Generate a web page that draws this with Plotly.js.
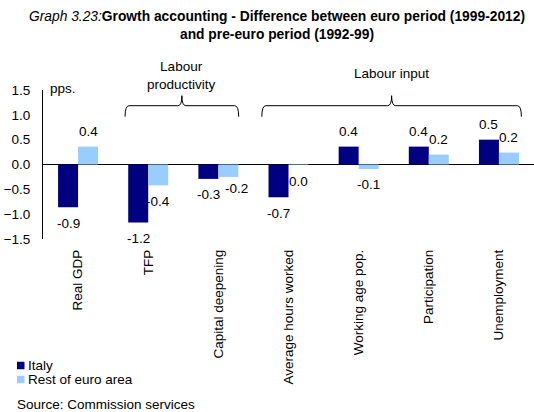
<!DOCTYPE html>
<html>
<head>
<meta charset="utf-8">
<script src="https://cdn.plot.ly/plotly-3.0.1.min.js"></script>
<style>
  html, body { margin: 0; padding: 0; background: #ffffff; }
  #chart { width: 534px; height: 412px; }
</style>
</head>
<body>
<div id="chart"></div>
<script>
// ---- data ----
var categories = ["Real GDP", "TFP", "Capital deepening", "Average hours worked",
                  "Working age pop.", "Participation", "Unemployment"];
var seriesNames = ["Italy", "Rest of euro area"];
var italy = [-0.86, -1.17, -0.29, -0.66, 0.36, 0.36, 0.50];
var restEA = [0.36, -0.42, -0.25, -0.01, -0.09, 0.20, 0.24];
var yTicks = [-1.5, -1.0, -0.5, 0.0, 0.5, 1.0, 1.5];
var groupLabels = ["Labour<br>productivity", "Labour input"];
var groupSpans = [[1, 2], [3, 6]];   // category index ranges covered by each bracket
var titleText = "<i>Graph 3.23:</i><b>Growth accounting - Difference between euro period (1999-2012)</b><br><b>and pre-euro period (1992-99)</b>";
var unitLabel = "pps.";
var sourceText = "Source: Commission services";

// ---- style ----
var colors = ["#000080", "#99CCFF"];
var FONT = "Liberation Sans, Arial, sans-serif";
var FS = 13.5;
var W = 534, H = 412;
var M = {l: 43, r: 0, t: 90, b: 173};
var PW = W - M.l - M.r, PH = H - M.t - M.b;
function px2x(px) { return (px - M.l) / PW; }
function py2y(py) { return (M.t + PH - py) / PH; }
var n = categories.length;
function catPaper(v) { return (v + 0.5) / n; }   // x range is [-0.5, n-0.5]
var pxPerUnitY = PH / 3;

var xIdx = categories.map(function (c, i) { return i; });

var traces = [italy, restEA].map(function (vals, s) {
  return {
    type: "bar",
    name: seriesNames[s],
    x: xIdx,
    y: vals,
    marker: {color: colors[s], line: {width: 0}},
    hoverinfo: "skip",
    showlegend: false
  };
});

function fmt(v) {
  var s = (Math.round(v * 10) / 10).toFixed(1);
  return s === "-0.0" ? "0.0" : s;
}

var annotations = [];
[italy, restEA].forEach(function (vals, s) {
  vals.forEach(function (v, i) {
    var xs = s === 0 ? -10 : 10;
    var ys = v >= 0 ? 15 : -16;
    if (s === 1) {
      var other = italy[i];
      var sameSide = (other >= 0) === (v >= 0);
      var gap = Math.abs(other - v) * pxPerUnitY;
      if (sameSide && gap < 5) { xs += 8; ys = v >= 0 ? 15 : -12; }
    }
    annotations.push({
      xref: "x", yref: "y", x: i, y: v,
      xshift: xs, yshift: ys,
      text: fmt(v), showarrow: false,
      font: {family: FONT, size: FS, color: "#000"},
      xanchor: "center", yanchor: "middle"
    });
  });
});

// unit label
annotations.push({
  xref: "paper", yref: "paper", x: px2x(48), y: py2y(88),
  text: unitLabel, showarrow: false, xanchor: "left", yanchor: "middle",
  font: {family: FONT, size: FS, color: "#000"}
});

// bracket shapes + labels
var shapes = [];
var yh = py2y(105.7), yt = py2y(95.7), yb = py2y(116.7);
var bracketPad = [[0.33, 0.29], [0.38, 0.32]];
groupSpans.forEach(function (sp, g) {
  var x0 = catPaper(sp[0] - bracketPad[g][0]);
  var x1 = catPaper(sp[1] + bracketPad[g][1]);
  var xc = (x0 + x1) / 2;
  var d = 4 / PW;
  var path = "M" + x0 + "," + yb +
    " Q" + x0 + "," + yh + " " + (x0 + d) + "," + yh +
    " L" + (xc - d) + "," + yh +
    " Q" + xc + "," + yh + " " + xc + "," + yt +
    " M" + xc + "," + yt +
    " Q" + xc + "," + yh + " " + (xc + d) + "," + yh +
    " L" + (x1 - d) + "," + yh +
    " Q" + x1 + "," + yh + " " + x1 + "," + yb;
  shapes.push({type: "path", xref: "paper", yref: "paper", path: path,
               line: {color: "#000", width: 1}, fillcolor: "rgba(0,0,0,0)"});
  annotations.push({
    xref: "paper", yref: "paper", x: xc, y: py2y(g === 0 ? 75.5 : 73),
    text: groupLabels[g], showarrow: false, xanchor: "center", yanchor: "middle",
    font: {family: FONT, size: FS, color: "#000"}
  });
});

// custom legend
var legendRows = [365.5, 379.5];
seriesNames.forEach(function (nm, s) {
  var cy = legendRows[s];
  shapes.push({type: "rect", xref: "paper", yref: "paper",
    x0: px2x(17), x1: px2x(24.5), y0: py2y(cy + 3.75), y1: py2y(cy - 3.75),
    fillcolor: colors[s], line: {width: 0}});
  annotations.push({
    xref: "paper", yref: "paper", x: px2x(26), y: py2y(cy),
    text: nm, showarrow: false, xanchor: "left", yanchor: "middle",
    font: {family: FONT, size: FS, color: "#000"}
  });
});

// source
annotations.push({
  xref: "paper", yref: "paper", x: px2x(15), y: py2y(404),
  text: sourceText, showarrow: false, xanchor: "left", yanchor: "middle",
  font: {family: FONT, size: FS, color: "#000"}
});

var layout = {
  width: W, height: H,
  margin: M,
  paper_bgcolor: "#ffffff", plot_bgcolor: "#ffffff",
  font: {family: FONT, size: FS, color: "#000"},
  title: {
    text: titleText,
    font: {family: FONT, size: 13.8, color: "#000"},
    xref: "container", yref: "container",
    x: 277 / W, xanchor: "center",
    y: 1 - 21 / H, yanchor: "top"
  },
  bargap: 0.43, bargroupgap: 0,
  barmode: "group",
  showlegend: false,
  xaxis: {
    type: "linear",
    range: [-0.5, n - 0.5],
    tickvals: xIdx, ticktext: categories,
    tickangle: -90,
    ticks: "", showgrid: false, zeroline: false, showline: false,
    ticklabelstandoff: 7,
    tickfont: {family: FONT, size: FS, color: "#000"},
    fixedrange: true
  },
  yaxis: {
    range: [-1.5, 1.5],
    tickvals: yTicks,
    tickformat: ".1f",
    ticks: "", showgrid: false,
    zeroline: true, zerolinecolor: "#000", zerolinewidth: 1,
    showline: true, linecolor: "#000", linewidth: 1,
    ticklabelstandoff: 9,
    tickfont: {family: FONT, size: FS, color: "#000"},
    fixedrange: true
  },
  shapes: shapes,
  annotations: annotations
};

Plotly.newPlot("chart", traces, layout, {displayModeBar: false, staticPlot: true});
</script>
</body>
</html>
